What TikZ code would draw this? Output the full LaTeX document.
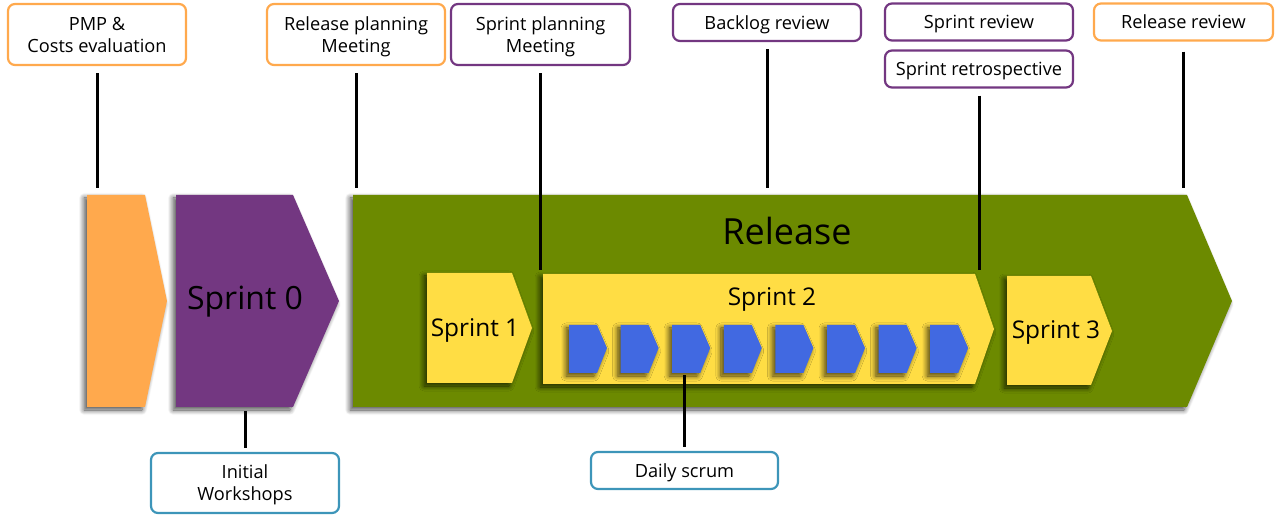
\documentclass[tikz,border=0pt]{standalone}
\usepackage{fontspec}
\setmainfont{Open Sans}
\usepackage{tikz}
\usetikzlibrary{positioning,shadows.blur}
\definecolor{porange}{HTML}{FFA94D}
\definecolor{ppurple}{HTML}{733781}
\definecolor{pgreen}{HTML}{6C8A00}
\definecolor{pyellow}{HTML}{FFDD44}
\definecolor{pblue}{HTML}{4169E1}
\definecolor{pcyan}{HTML}{3D95B9}
\tikzset{lbl/.style={draw,rounded corners=3.5pt,line width=1.1pt,fill=white,align=center,inner sep=1pt,minimum height=18.5pt,text depth=0pt,font=\fontsize{9.1}{11}\selectfont}}
\tikzset{chev/.style={blur shadow={shadow xshift=-1.5pt,shadow yshift=-1.5pt,shadow blur radius=2.5pt,shadow blur steps=12,shadow opacity=70}}}
\tikzset{link/.style={line width=1.5pt,shorten <=3.5pt}}

\begin{document}
\begin{tikzpicture}[x=0.5pt,y=-0.5pt]
    \useasboundingbox (0,0) rectangle (1280,517);

    % phases
    \fill[porange,chev] (87,195) -- (145,195) -- (167,301) -- (145,407) -- (87,407) -- cycle;
    \fill[ppurple,chev] (176,195) -- (293,195) -- (339,301) -- (293,407) -- (176,407) -- cycle;
    \fill[pgreen,chev] (353,195) -- (1187,195) -- (1232,301) -- (1187,407) -- (353,407) -- cycle;
    \fill[pyellow,chev] (427,273) -- (512,273) -- (532,328) -- (512,383) -- (427,383) -- cycle;
    \fill[pyellow,chev] (543,274) -- (975,274) -- (994,329) -- (975,384) -- (543,384) -- cycle;
    \fill[pyellow,chev] (1007,276) -- (1091,276) -- (1112,331) -- (1091,385) -- (1007,385) -- cycle;
    \foreach \i in {0,...,7}
        \fill[pblue,chev] ({569+51.6*\i},325) -- ++(28,0) -- ++(10,23) -- ++(-10,25) -- ++(-28,0) -- cycle;

    \node (s0) at (245,302) {\fontsize{16}{18}\selectfont Sprint 0};
    \node (release) at (787,231) {\fontsize{18}{20}\selectfont Release};
    \node (s1) at (475,330) {\fontsize{12.2}{14}\selectfont Sprint 1};
    \node (s2) at (772,299) {\fontsize{12.2}{14}\selectfont Sprint 2};
    \node (s3) at (1056,332) {\fontsize{12.2}{14}\selectfont Sprint 3};

    % labels
    \node[lbl,draw=porange,minimum width=89pt,minimum height=30.5pt] (pmp) at (97,34.5) {PMP \&\\Costs evaluation};
    \node[lbl,draw=porange,minimum width=89pt,minimum height=30.5pt] (relplan) at (356,34.5) {Release planning\\Meeting};
    \node[lbl,draw=ppurple,minimum width=89.5pt,minimum height=30.5pt] (sprplan) at (540.5,34.5) {Sprint planning\\Meeting};
    \node[lbl,draw=ppurple,minimum width=94pt] (backlog) at (767,22.5) {Backlog review};
    \node[lbl,draw=ppurple,minimum width=94pt] (sprrev) at (979,22) {Sprint review};
    \node[lbl,draw=ppurple,minimum width=94pt] (retro) at (979,69) {Sprint retrospective};
    \node[lbl,draw=porange,minimum width=89.5pt] (relrev) at (1183.5,22) {Release review};
    \node[lbl,draw=pcyan,minimum width=94pt,minimum height=30pt] (workshops) at (245,483) {Initial\\Workshops};
    \node[lbl,draw=pcyan,minimum width=93.5pt] (daily) at (684.5,470.5) {Daily scrum};

    \coordinate (pmpfoot) at (97,188);
    \coordinate (relplanfoot) at (356,188);
    \coordinate (sprplanfoot) at (540.5,270);
    \coordinate (backlogfoot) at (767,188);
    \coordinate (retrofoot) at (979,270);
    \coordinate (relrevfoot) at (1183.5,188);
    \coordinate (s0foot) at (245,411);
    \coordinate (scrumfoot) at (684.5,375);

    \draw[link] (pmp) -- (pmpfoot);
    \draw[link] (relplan) -- (relplanfoot);
    \draw[link] (sprplan) -- (sprplanfoot);
    \draw[link] (backlog) -- (backlogfoot);
    \draw[link] (retro) -- (retrofoot);
    \draw[link,shorten <=5pt] (relrev) -- (relrevfoot);
    \draw[link,shorten <=2pt] (workshops) -- (s0foot);
    \draw[link,shorten <=2pt] (daily) -- (scrumfoot);
\end{tikzpicture}
\end{document}
